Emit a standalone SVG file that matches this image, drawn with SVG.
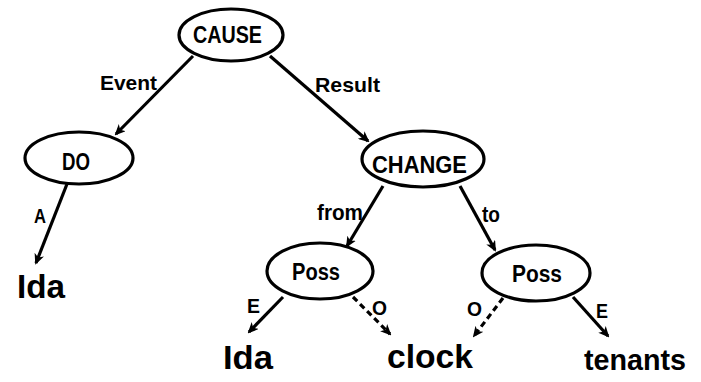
<svg xmlns="http://www.w3.org/2000/svg" width="701" height="382" viewBox="0 0 701 382">
<defs>
<marker id="ah" markerWidth="11" markerHeight="10" refX="9" refY="5" orient="auto" markerUnits="userSpaceOnUse" viewBox="0 0 11 10">
<path d="M0,0 L11,5 L0,10 L3,5 Z" fill="#000"/>
</marker>
<style>
.edge{stroke:#000;stroke-width:3.2;fill:none;marker-end:url(#ah)}
.dash{stroke-dasharray:6,4}
.node{fill:#fff;stroke:#000;stroke-width:3.2}
.lbl{font-family:"Liberation Sans",Arial,sans-serif;font-weight:bold;fill:#000}
.big{font-family:"Liberation Sans",Arial,sans-serif;font-weight:bold;font-size:34px;fill:#000}
</style>
</defs>
<rect width="701" height="382" fill="#fff"/>
<g id="connectors">
<line class="edge" x1="193" y1="56" x2="116" y2="134"/>
<line class="edge" x1="270" y1="56" x2="368" y2="141"/>
<line class="edge" x1="67" y1="184" x2="36" y2="263"/>
<line class="edge" x1="383" y1="186" x2="347" y2="246"/>
<line class="edge" x1="460" y1="186" x2="495" y2="250"/>
<line class="edge" x1="283" y1="297" x2="249" y2="332"/>
<line class="edge dash" x1="353" y1="297" x2="390" y2="334"/>
<line class="edge dash" x1="503" y1="298" x2="474" y2="336"/>
<line class="edge" x1="573" y1="297" x2="608" y2="336"/>
<text class="lbl" x="100" y="90" font-size="21" textLength="57" lengthAdjust="spacingAndGlyphs">Event</text>
<text class="lbl" x="315" y="92" font-size="21" textLength="65" lengthAdjust="spacingAndGlyphs">Result</text>
<text class="lbl" x="34" y="223" font-size="20" textLength="12" lengthAdjust="spacingAndGlyphs">A</text>
<text class="lbl" x="317" y="220" font-size="22" textLength="46" lengthAdjust="spacingAndGlyphs">from</text>
<text class="lbl" x="482" y="222" font-size="22" textLength="18" lengthAdjust="spacingAndGlyphs">to</text>
<text class="lbl" x="247" y="313" font-size="21" textLength="13" lengthAdjust="spacingAndGlyphs">E</text>
<text class="lbl" x="372" y="315" font-size="21" textLength="15" lengthAdjust="spacingAndGlyphs">O</text>
<text class="lbl" x="467" y="316" font-size="21" textLength="15" lengthAdjust="spacingAndGlyphs">O</text>
<text class="lbl" x="596" y="318" font-size="21" textLength="12" lengthAdjust="spacingAndGlyphs">E</text>
</g>
<g id="cause">
<ellipse class="node" cx="231" cy="35" rx="52" ry="26"/>
<text class="lbl" x="193" y="43" font-size="23" textLength="69" lengthAdjust="spacingAndGlyphs">CAUSE</text>
</g>
<g id="do">
<ellipse class="node" cx="79" cy="158" rx="54" ry="26"/>
<text class="lbl" x="62" y="170" font-size="23" textLength="28" lengthAdjust="spacingAndGlyphs">DO</text>
</g>
<g id="change">
<ellipse class="node" cx="423" cy="159" rx="61" ry="28"/>
<text class="lbl" x="372" y="173" font-size="24" textLength="95" lengthAdjust="spacingAndGlyphs">CHANGE</text>
</g>
<g id="poss1">
<ellipse class="node" cx="320" cy="271" rx="53" ry="28"/>
<text class="lbl" x="292" y="280" font-size="23" textLength="48" lengthAdjust="spacingAndGlyphs">Poss</text>
</g>
<g id="poss2">
<ellipse class="node" cx="536" cy="273" rx="54" ry="28"/>
<text class="lbl" x="512" y="282" font-size="23" textLength="50" lengthAdjust="spacingAndGlyphs">Poss</text>
</g>
<g id="ida1"><text class="big" x="17" y="298" textLength="48" lengthAdjust="spacingAndGlyphs">Ida</text></g>
<g id="ida2"><text class="big" x="223" y="369" textLength="50" lengthAdjust="spacingAndGlyphs">Ida</text></g>
<g id="clock"><text class="big" x="387" y="368" textLength="86" lengthAdjust="spacingAndGlyphs">clock</text></g>
<g id="tenants"><text class="big" x="584" y="370" style="font-size:30px" textLength="102" lengthAdjust="spacingAndGlyphs">tenants</text></g>
</svg>
